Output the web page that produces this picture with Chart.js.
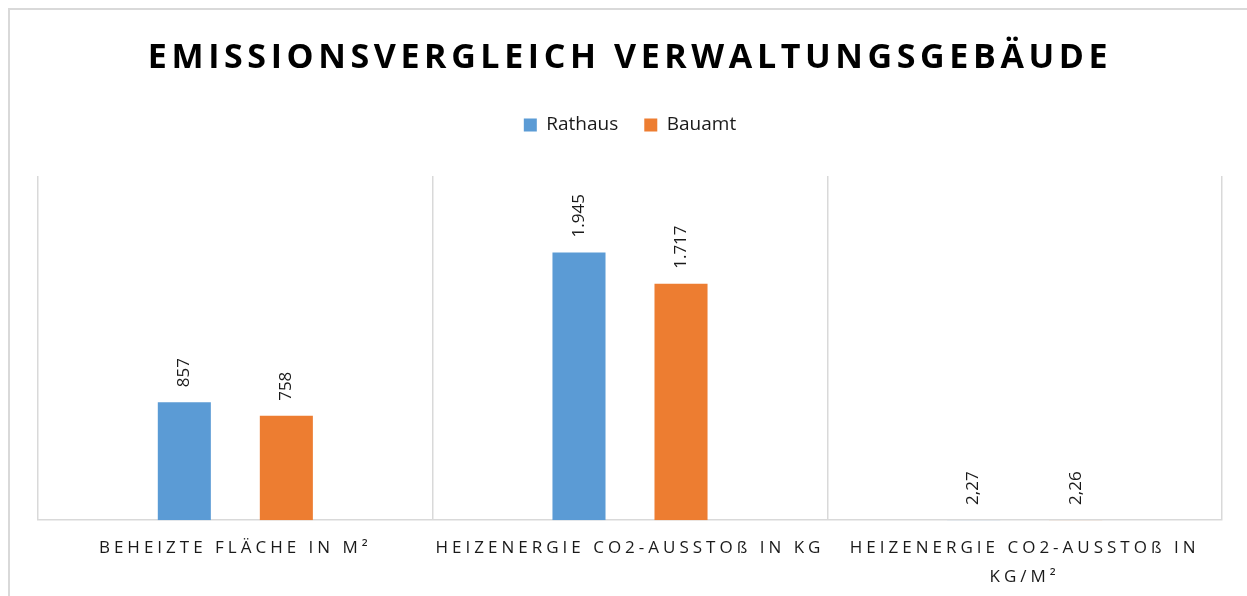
<!DOCTYPE html>
<html lang="de">
<head>
<meta charset="utf-8">
<title>Emissionsvergleich Verwaltungsgebäude</title>
<script src="https://cdn.jsdelivr.net/npm/chart.js@4.4.1/dist/chart.umd.min.js"></script>
<style>
    html, body { margin: 0; padding: 0; background: #fff; overflow: hidden; }
    #frame {
        position: absolute; left: 8px; top: 8px;
        width: 1300px; height: 700px;
        border-left: 2px solid #d9d9d9; border-top: 2px solid #d9d9d9;
    }
    #chart { position: absolute; left: 0; top: 0; }
</style>
</head>
<body>
<div id="frame"></div>
<canvas id="chart" width="1247" height="596"></canvas>
<script>
// data
const TITLE = 'EMISSIONSVERGLEICH VERWALTUNGSGEBÄUDE';
const CATEGORIES = [
    'BEHEIZTE FLÄCHE IN M²',
    'HEIZENERGIE CO2-AUSSTOß IN KG',
    ['HEIZENERGIE CO2-AUSSTOß IN', 'KG/M²']
];
const SERIES_NAMES = ['Rathaus', 'Bauamt'];
const RATHAUS = [857, 1945, 2.27];
const BAUAMT = [758, 1717, 2.26];
const Y_MAX = 2500;

const BLUE = '#5B9BD5';
const ORANGE = '#ED7D31';
const GRID = '#d9d9d9';
const FONT = '"Open Sans", "Noto Sans", sans-serif';

const fmt = new Intl.NumberFormat('de-DE', { maximumFractionDigits: 2 });

// canvas letterSpacing for the title and the category labels (Chart.js has no option for it)
const spacing = {
    id: 'spacing',
    beforeDraw(chart) {
        const wrap = (obj, method, ls) => {
            if (!obj || obj['$sp_' + method]) return;
            const orig = obj[method];
            obj['$sp_' + method] = true;
            obj[method] = function (...args) {
                const ctx = chart.ctx;
                const prev = ctx.letterSpacing;
                ctx.letterSpacing = ls;
                orig.apply(this, args);
                ctx.letterSpacing = prev || '0px';
            };
        };
        wrap(chart.titleBlock, 'draw', '4.6px');
        wrap(chart.scales.x, 'drawLabels', '4px');
    }
};

// rotated value labels above each bar
const valueLabels = {
    id: 'valueLabels',
    afterDatasetsDraw(chart) {
        const ctx = chart.ctx;
        ctx.save();
        ctx.letterSpacing = '0px';
        ctx.font = '17px ' + FONT;
        ctx.fillStyle = '#1a1a1a';
        ctx.textAlign = 'left';
        ctx.textBaseline = 'middle';
        chart.data.datasets.forEach((ds, i) => {
            chart.getDatasetMeta(i).data.forEach((bar, j) => {
                ctx.save();
                ctx.translate(bar.x, bar.y - 15);
                ctx.rotate(-Math.PI / 2);
                ctx.fillText(fmt.format(ds.data[j]), 0, 0);
                ctx.restore();
            });
        });
        ctx.restore();
    }
};

new Chart(document.getElementById('chart'), {
    type: 'bar',
    data: {
        labels: CATEGORIES,
        datasets: [
            { label: SERIES_NAMES[0], data: RATHAUS, backgroundColor: BLUE },
            { label: SERIES_NAMES[1], data: BAUAMT, backgroundColor: ORANGE }
        ]
    },
    options: {
        responsive: false,
        animation: false,
        devicePixelRatio: 1,
        categoryPercentage: 0.517,
        barPercentage: 0.52,
        layout: { padding: { left: 38, right: 25, top: 0, bottom: -10 } },
        plugins: {
            title: {
                display: true,
                text: TITLE,
                color: '#000',
                font: { family: FONT, size: 34, weight: 'bold', lineHeight: 1.2 },
                padding: { top: 38, bottom: 10.7 }
            },
            legend: {
                display: true,
                position: 'top',
                labels: {
                    color: '#1a1a1a',
                    font: { family: FONT, size: 19 },
                    boxWidth: 13,
                    boxHeight: 13,
                    padding: 26
                }
            },
            // blank spacer block between legend and plot area
            subtitle: {
                display: true,
                text: '',
                weight: 500,
                font: { size: 10, lineHeight: 1.2 },
                padding: { top: 0, bottom: 19.5 }
            },
            tooltip: { enabled: false }
        },
        scales: {
            x: {
                grid: { color: GRID, lineWidth: 1.5, drawTicks: false, offset: true },
                border: { color: GRID, width: 1.5 },
                ticks: {
                    color: '#1a1a1a',
                    font: { family: FONT, size: 17, lineHeight: 1.7 },
                    padding: 14,
                    maxRotation: 0,
                    autoSkip: false
                }
            },
            y: { display: false, min: 0, max: Y_MAX }
        }
    },
    plugins: [spacing, valueLabels]
});
</script>
</body>
</html>
